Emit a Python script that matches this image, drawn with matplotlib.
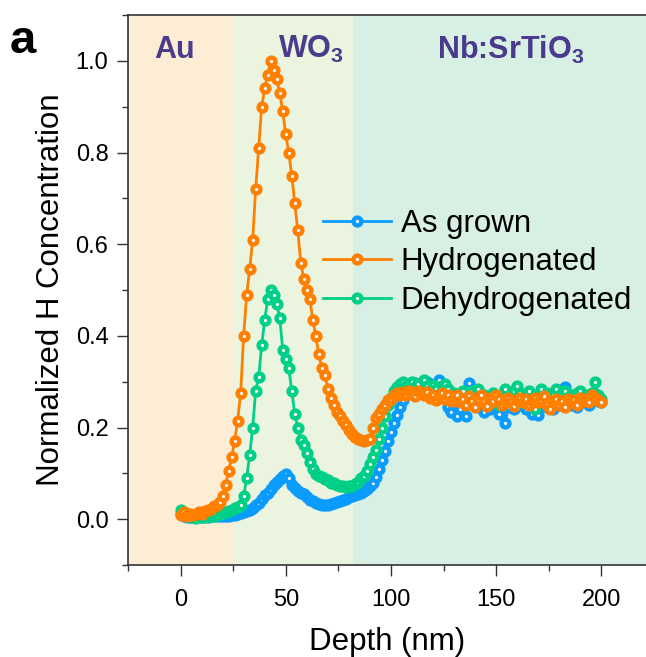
import matplotlib
matplotlib.use("Agg")
import matplotlib.pyplot as plt
from matplotlib.ticker import MultipleLocator
import numpy as np

plt.rcParams['font.family'] = ['Liberation Sans', 'DejaVu Sans']
plt.rcParams['mathtext.fontset'] = 'custom'
plt.rcParams['mathtext.rm'] = 'Liberation Sans'
plt.rcParams['mathtext.bf'] = 'Liberation Sans:bold'
plt.rcParams['mathtext.default'] = 'bf'

# глибина (нм): 141 точка від 0 до 200
depth = np.linspace(0, 200, 141)

as_grown = [
    0.012, 0.008, 0.005, 0.004, 0.004, 0.005, 0.005, 0.004, 0.006, 0.005,
    0.006, 0.007, 0.008, 0.008, 0.007, 0.008, 0.008, 0.009, 0.010, 0.012,
    0.013, 0.015, 0.018, 0.020, 0.025, 0.030, 0.035, 0.045, 0.052, 0.058,
    0.065, 0.075, 0.082, 0.088, 0.095, 0.098, 0.090, 0.075, 0.068, 0.062,
    0.058, 0.055, 0.048, 0.042, 0.040, 0.035, 0.033, 0.030, 0.032, 0.030,
    0.033, 0.035, 0.038, 0.040, 0.042, 0.045, 0.048, 0.050, 0.052, 0.055,
    0.058, 0.062, 0.065, 0.072, 0.080, 0.092, 0.110, 0.130, 0.148, 0.170,
    0.190, 0.210, 0.228, 0.245, 0.260, 0.270, 0.282, 0.290, 0.298, 0.290,
    0.295, 0.285, 0.300, 0.295, 0.290, 0.285, 0.303, 0.290, 0.265, 0.245,
    0.235, 0.250, 0.225, 0.240, 0.255, 0.225, 0.297, 0.270, 0.255, 0.245,
    0.260, 0.235, 0.250, 0.240, 0.255, 0.245, 0.230, 0.250, 0.210, 0.245,
    0.255, 0.240, 0.260, 0.250, 0.265, 0.240, 0.255, 0.230, 0.245, 0.228,
    0.250, 0.260, 0.245, 0.255, 0.240, 0.265, 0.250, 0.275, 0.288, 0.265,
    0.250, 0.260, 0.245, 0.255, 0.270, 0.260, 0.250, 0.265, 0.270, 0.258,
    0.255,
]

hydrogenated = [
    0.010, 0.015, 0.008, 0.012, 0.010, 0.012, 0.015, 0.012, 0.018, 0.020,
    0.022, 0.028, 0.030, 0.038, 0.050, 0.075, 0.105, 0.135, 0.170, 0.215,
    0.275, 0.400, 0.490, 0.545, 0.610, 0.720, 0.810, 0.900, 0.940, 0.970,
    1.000, 0.980, 0.960, 0.930, 0.890, 0.840, 0.800, 0.750, 0.690, 0.630,
    0.560, 0.525, 0.500, 0.480, 0.435, 0.400, 0.360, 0.330, 0.315, 0.285,
    0.265, 0.250, 0.235, 0.225, 0.215, 0.205, 0.195, 0.185, 0.180, 0.175,
    0.172, 0.170, 0.172, 0.175, 0.200, 0.220, 0.230, 0.240, 0.250, 0.260,
    0.262, 0.270, 0.275, 0.270, 0.278, 0.272, 0.280, 0.275, 0.268, 0.280,
    0.275, 0.270, 0.278, 0.265, 0.272, 0.260, 0.268, 0.275, 0.262, 0.270,
    0.258, 0.265, 0.272, 0.255, 0.262, 0.250, 0.268, 0.258, 0.245, 0.262,
    0.270, 0.255, 0.248, 0.265, 0.258, 0.270, 0.262, 0.250, 0.258, 0.265,
    0.255, 0.248, 0.260, 0.265, 0.255, 0.262, 0.250, 0.258, 0.265, 0.255,
    0.260, 0.268, 0.250, 0.240, 0.258, 0.262, 0.250, 0.258, 0.245, 0.262,
    0.255, 0.260, 0.250, 0.265, 0.258, 0.262, 0.255, 0.270, 0.265, 0.260,
    0.255,
]

dehydrogenated = [
    0.020, 0.015, 0.010, 0.005, 0.004, 0.003, 0.004, 0.005, 0.004, 0.006,
    0.006, 0.008, 0.010, 0.012, 0.013, 0.015, 0.018, 0.020, 0.024, 0.027,
    0.032, 0.050, 0.090, 0.140, 0.200, 0.280, 0.310, 0.380, 0.435, 0.480,
    0.500, 0.490, 0.470, 0.440, 0.370, 0.350, 0.330, 0.280, 0.230, 0.200,
    0.172, 0.162, 0.145, 0.125, 0.110, 0.098, 0.094, 0.092, 0.088, 0.085,
    0.080, 0.078, 0.075, 0.073, 0.072, 0.070, 0.072, 0.073, 0.076, 0.082,
    0.090, 0.095, 0.105, 0.120, 0.135, 0.150, 0.175, 0.200, 0.225, 0.250,
    0.265, 0.280, 0.288, 0.295, 0.300, 0.290, 0.295, 0.300, 0.288, 0.295,
    0.280, 0.303, 0.290, 0.280, 0.292, 0.285, 0.270, 0.280, 0.295, 0.285,
    0.265, 0.275, 0.260, 0.270, 0.280, 0.265, 0.255, 0.280, 0.270, 0.285,
    0.260, 0.270, 0.255, 0.265, 0.275, 0.260, 0.250, 0.270, 0.285, 0.260,
    0.270, 0.280, 0.290, 0.275, 0.255, 0.270, 0.280, 0.260, 0.240, 0.270,
    0.285, 0.265, 0.275, 0.255, 0.270, 0.285, 0.260, 0.275, 0.280, 0.265,
    0.270, 0.260, 0.275, 0.280, 0.265, 0.270, 0.260, 0.275, 0.300, 0.270,
    0.262,
]

# шари зразка: назва, межі (нм), колір фону
layers = ['Au', 'WO$_3$', 'Nb:SrTiO$_3$']
layer_edges = [-25, 25, 82, 240]
layer_colors = ['#FDEDD5', '#EBF4DF', '#D8EFE3']
layer_label_x = [-3, 62, 157]

fig = plt.figure(figsize=(6.46, 6.57), dpi=100)
ax = fig.add_axes([0.198, 0.140, 0.802, 0.837])

for i in range(len(layers)):
    ax.axvspan(layer_edges[i], layer_edges[i + 1], color=layer_colors[i], lw=0, zorder=0)
    ax.text(layer_label_x[i], 1.024, layers[i], ha='center', va='center',
            fontsize=22, fontweight='bold', color='#4A3B8C')

style = dict(marker='o', markersize=5.6, markeredgewidth=3.2,
             markerfacecolor='white', linewidth=2)
l1, = ax.plot(depth, as_grown, color='#0A9BFF', label='As grown', zorder=2, **style)
l3, = ax.plot(depth, dehydrogenated, color='#00CF88', label='Dehydrogenated', zorder=3, **style)
l2, = ax.plot(depth, hydrogenated, color='#FF7F00', label='Hydrogenated', zorder=4, **style)

ax.set_xlim(-25, 221.2)
ax.set_ylim(-0.1, 1.1)
ax.xaxis.set_major_locator(MultipleLocator(50))
ax.xaxis.set_minor_locator(MultipleLocator(25))
ax.yaxis.set_major_locator(MultipleLocator(0.2))
ax.yaxis.set_minor_locator(MultipleLocator(0.1))
ax.yaxis.set_major_formatter(plt.FormatStrFormatter('%.1f'))
ax.tick_params(which='major', length=8, width=1, labelsize=17, color='#333333')
ax.tick_params(which='minor', length=4, width=1, color='#333333')
ax.tick_params(axis='x', which='major', pad=9)
ax.tick_params(axis='y', which='major', pad=6)
for s in ['left', 'bottom', 'top']:
    ax.spines[s].set_color('#333333')
    ax.spines[s].set_linewidth(1.2)
ax.spines['right'].set_visible(False)

ax.set_xlabel('Depth (nm)', fontsize=22.5, labelpad=12)
ax.set_ylabel('Normalized H Concentration', fontsize=22.5, labelpad=7)

ax.legend(handles=[l1, l2, l3], loc='upper left', bbox_to_anchor=(0.376, 0.648),
          frameon=False, fontsize=22.5, handlelength=2.2, handletextpad=0.3,
          labelspacing=0.27, borderpad=0, borderaxespad=0)

fig.text(0.015, 0.938, 'a', fontsize=34, fontweight='bold', va='center', ha='left')

fig.savefig('out.png', dpi=100)
